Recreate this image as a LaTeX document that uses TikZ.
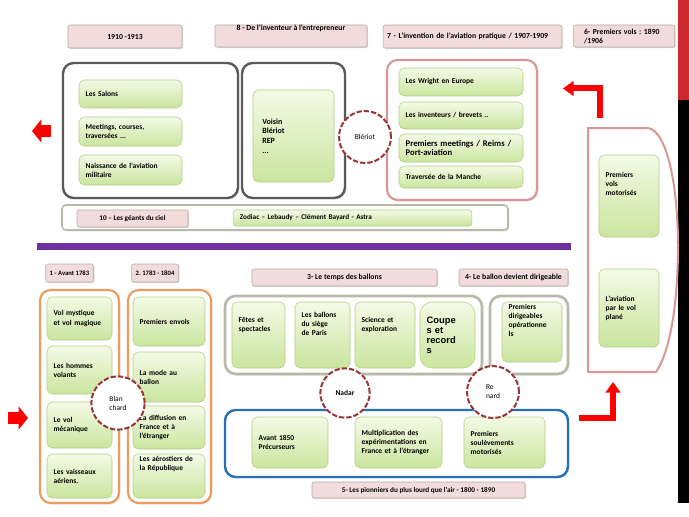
\documentclass[tikz,border=0pt]{standalone}
\usepackage{fontspec}
\setmainfont{Carlito}
\newfontfamily\arialfont{Liberation Sans}
\usetikzlibrary{arrows.meta,shadows}
\frenchspacing

\definecolor{headfill}{RGB}{242,220,219}
\definecolor{headline}{RGB}{180,170,165}
\definecolor{greentop}{RGB}{243,250,230}
\definecolor{greenbot}{RGB}{202,229,158}
\definecolor{greenline}{RGB}{175,206,128}
\definecolor{darkframe}{RGB}{90,90,90}
\definecolor{lightframe}{RGB}{185,185,170}
\definecolor{pinkframe}{RGB}{217,150,148}
\definecolor{orangeframe}{RGB}{236,155,95}
\definecolor{blueframe}{RGB}{40,112,182}
\definecolor{circred}{RGB}{150,55,53}
\definecolor{arrowred}{RGB}{255,0,0}
\definecolor{barpurple}{RGB}{112,48,160}
\definecolor{stripred}{RGB}{204,40,45}

\newcommand{\boxfont}{\bfseries\fontsize{5.6}{6.8}\selectfont}
\newcommand{\hdfont}{\bfseries\fontsize{5.8}{6.8}\selectfont}
\newcommand{\smallhd}{\bfseries\fontsize{5.4}{6.4}\selectfont}
\newcommand{\tinyhd}{\bfseries\fontsize{5}{6}\selectfont}

\tikzset{
  header/.style={draw=headline, fill=headfill, rounded corners=1.5pt,
    drop shadow={opacity=.3,shadow xshift=.8pt,shadow yshift=-.8pt},
    inner ysep=1pt, inner xsep=3pt, font=\hdfont},
  greenbox/.style={draw=greenline, top color=greentop, bottom color=greenbot,
    rounded corners=4pt, inner xsep=5pt, inner ysep=2pt, align=left,
    font=\boxfont},
  groupframe/.style={draw=#1, fill=white, rounded corners=8pt, line width=1.6pt,
    drop shadow={opacity=.25,shadow xshift=1pt,shadow yshift=-1pt}},
  person/.style={circle, draw=circred, fill=white, line width=1.5pt,
    dash pattern=on 4pt off 1.5pt, inner sep=0pt, align=left,
    font=\fontsize{5.6}{6.8}\selectfont},
  redarrow/.style={draw=arrowred, line width=4.5pt,
    -{Triangle[length=8pt,width=11pt]}},
  blockarrow/.style={draw=arrowred, line width=9pt,
    -{Triangle[length=7pt,width=17pt]}},
}

\begin{document}
\begin{tikzpicture}[x=0.75pt, y=-0.75pt]
\useasboundingbox (0,0) rectangle (689,517);
\fill[white] (0,0) rectangle (689,517);

% bord droit
\fill[stripred] (678,0) rectangle (689,100);
\fill[black] (678,100) rectangle (689,503);

% titres du haut
\node[header, minimum width=85.5pt, minimum height=17.25pt] (h9) at (125,36.5) {1910 -1913};
\node[header, minimum width=114pt, minimum height=16.5pt, text height=3.2pt, text depth=11.3pt] (h8) at (291,36) {8 - De l’inventeur à l’entrepreneur};
\node[header, text width=128pt, align=left, minimum height=17.25pt] (h7) at (472.5,36.5) {7 - L’invention de l’aviation pratique / 1907-1909};
\node[header, inner xsep=8pt, text width=60pt, align=left, minimum height=16.5pt] (h6) at (624,36) {6- Premiers vols : 1890\\/1906};

% 1910-1913
\node[groupframe=darkframe, line width=1.8pt, minimum width=131.25pt, minimum height=101.25pt] (salonsgrp) at (150.5,130.5) {};
\node[greenbox, text width=67.25pt, minimum height=21pt] (salons) at (130.5,94) {Les Salons};
\node[greenbox, text width=67.25pt, minimum height=21.75pt] (meetings) at (130.5,131.5) {Meetings, courses,\\traversées ...};
\node[greenbox, text width=67.25pt, minimum height=22.5pt] (militaire) at (130.5,170) {Naissance de l’aviation\\militaire};

% 8 - constructeurs
\node[groupframe=darkframe, line width=1.8pt, minimum width=77.25pt, minimum height=101.25pt] (constrgrp) at (293.5,130.5) {};
\node[greenbox, inner xsep=7pt, text width=46.75pt, minimum height=69pt, font=\bfseries\fontsize{6}{7.2}\selectfont] (voisin) at (293.5,136) {Voisin\\Blériot\\REP\\...};

% 7 - aviation pratique
\node[groupframe=pinkframe, minimum width=112.5pt, minimum height=105pt] (pratiquegrp) at (462,130) {};
\node[greenbox, text width=83pt, minimum height=21pt] (wright) at (461,82) {Les Wright en Europe};
\node[greenbox, text width=83pt, minimum height=20.25pt] (brevets) at (461,115.5) {Les inventeurs / brevets ..};
\node[greenbox, text width=83pt, minimum height=21pt, font=\bfseries\fontsize{6.5}{7.4}\selectfont] (reims) at (461,148) {Premiers meetings / Reims /\\Port-aviation};
\node[greenbox, text width=83pt, minimum height=16.5pt] (manche) at (461,177) {Traversée  de la Manche};

% 6 - premiers vols
\draw[draw=pinkframe, line width=1.5pt, fill=white] (588,372) -- (588,128) -- (648,128)
  .. controls (668,131) and (678,190) .. (678,245)
  .. controls (678,300) and (671,350) .. (656,372) -- cycle;
\node[greenbox, text width=35pt, minimum height=61.5pt, text height=14.5pt, text depth=43pt] (motorises) at (629,196) {Premiers\\vols\\motorisés};
\node[greenbox, text width=35pt, minimum height=58.5pt] (plane) at (629,308) {L’aviation\\par le vol\\plané};

% 10 - les geants du ciel
\node[groupframe=lightframe, rounded corners=3pt, line width=1.2pt, minimum width=334.5pt, minimum height=18.75pt] (geants) at (285,217.5) {};
\node[header, font=\smallhd, minimum width=83.25pt, minimum height=12.75pt] (h10) at (132.5,218.5) {10 – Les géants du ciel};
\node[greenbox, font=\smallhd, rounded corners=2pt, inner ysep=0.5pt, text width=169pt, minimum height=12pt] (zodiac) at (352.5,218) {Zodiac – Lebaudy – Clément Bayard - Astra};

\fill[barpurple] (37,243) rectangle (571,250);

% 1 et 2
\node[header, font=\tinyhd, minimum width=33.75pt, minimum height=13.5pt] (h1) at (69.5,273) {1 - Avant 1783};
\node[header, font=\tinyhd, minimum width=33pt, minimum height=13.5pt] (h2) at (155,273) {2. 1783 - 1804};
\node[groupframe=orangeframe, minimum width=59.25pt, minimum height=159.75pt] (avantgrp) at (79.5,396.5) {};
\node[groupframe=orangeframe, minimum width=62.25pt, minimum height=159.75pt] (envolsgrp) at (169.5,396.5) {};
\node[greenbox, text width=38.75pt, minimum height=32.25pt] (mystique) at (79.5,318.5) {Vol mystique\\et vol magique};
\node[greenbox, text width=38.75pt, minimum height=36pt] (hommes) at (79.5,370) {Les hommes\\volants};
\node[greenbox, text width=38.75pt, minimum height=34.5pt] (mecanique) at (79.5,425) {Le vol\\mécanique};
\node[greenbox, text width=38.75pt, minimum height=33pt] (vaisseaux) at (79.5,476) {Les  vaisseaux\\aériens.};
\node[greenbox, text width=44pt, minimum height=36.75pt] (envols) at (169,321.5) {Premiers envols};
\node[greenbox, text width=44pt, minimum height=37.5pt] (mode) at (169,377) {La mode au\\ballon};
\node[greenbox, text width=44pt, minimum height=32.25pt] (diffusion) at (169,427.5) {La diffusion en\\France et à\\l’étranger};
\node[greenbox, text width=44pt, minimum height=33pt, text height=3.5pt, text depth=25.5pt] (aerostiers) at (169,476) {Les aérostiers de\\la République};

% 3 et 4
\node[header, minimum width=138.75pt, minimum height=12.75pt] (h3) at (344.5,277.5) {3- Le temps des ballons};
\node[header, minimum width=81.75pt, minimum height=12.75pt] (h4) at (513.5,277.5) {4- Le ballon devient dirigeable};
\node[groupframe=lightframe, line width=2pt, minimum width=192.75pt, minimum height=58.5pt] (tempsgrp) at (353.5,335) {};
\node[groupframe=lightframe, line width=2pt, minimum width=58.5pt, minimum height=58.5pt] (dirigegrp) at (529,335) {};
\node[greenbox, text width=29.75pt, minimum height=49.5pt, text height=13pt, text depth=32.5pt] (fetes) at (258.5,335) {Fêtes et\\spectacles};
\node[greenbox, text width=31.25pt, minimum height=49.5pt, text height=9.25pt, text depth=36.25pt] (siege) at (322.5,335) {Les ballons\\du siège\\de Paris};
\node[greenbox, text width=35pt, minimum height=49.5pt, text height=13pt, text depth=32.5pt] (science) at (385,335) {Science et\\exploration};
\node[greenbox, rounded corners=9pt, text width=31.25pt, minimum height=49.5pt, font=\arialfont\bfseries\fontsize{7}{7.4}\selectfont] (coupes) at (447.5,335) {Coupe\\s et\\record\\s};
\node[greenbox, text width=35pt, minimum height=45pt, text height=3.5pt, text depth=37.5pt] (dirigeables) at (532,332) {Premiers\\dirigeables\\opérationne\\ls};

% 5 - plus lourd que l'air
\node[groupframe=blueframe, line width=1.8pt, minimum width=257.25pt, minimum height=50.25pt] (lourdgrp) at (396.5,443.5) {};
\node[greenbox, text width=47pt, minimum height=38.25pt] (avant1850) at (290,442.5) {Avant 1850\\Précurseurs};
\node[greenbox, text width=55.25pt, minimum height=38.25pt] (multiplication) at (398.5,442.5) {Multiplication des\\expérimentations en\\France et à l’étranger};
\node[greenbox, text width=50.75pt, minimum height=38.25pt] (soulevements) at (504.5,442.5) {Premiers\\soulèvements\\motorisés};
\node[header, font=\smallhd, minimum width=159.75pt, minimum height=12pt] (h5) at (418.5,490) {5- Les pionniers du plus lourd que l’air - 1800 - 1890};

% personnages
\node[person, minimum size=39pt] (bleriot) at (365,137) {Blériot};
\node[person, minimum size=40pt] (blanchard) at (118,403) {Blan\\chard};
\node[person, minimum size=37pt, font=\bfseries\fontsize{5.6}{6.8}\selectfont] (nadar) at (345,393) {Nadar};
\node[person, minimum size=39pt] (renard) at (493,392) {Re\\nard};

% fleches
\coordinate (left1) at (51,131);
\coordinate (left2) at (32,131);
\draw[blockarrow] (left1) -- (left2);
\coordinate (in1) at (8,418);
\coordinate (in2) at (28,418);
\draw[blockarrow] (in1) -- (in2);
\coordinate (up1) at (600,118);
\coordinate (up2) at (600,88.5);
\coordinate (up3) at (563,88.5);
\draw[redarrow] (up1) -- (up2) -- (up3);
\coordinate (low1) at (579,418);
\coordinate (low2) at (613,418);
\coordinate (low3) at (613,382);
\draw[redarrow] (low1) -- (low2) -- (low3);
\end{tikzpicture}
\end{document}
